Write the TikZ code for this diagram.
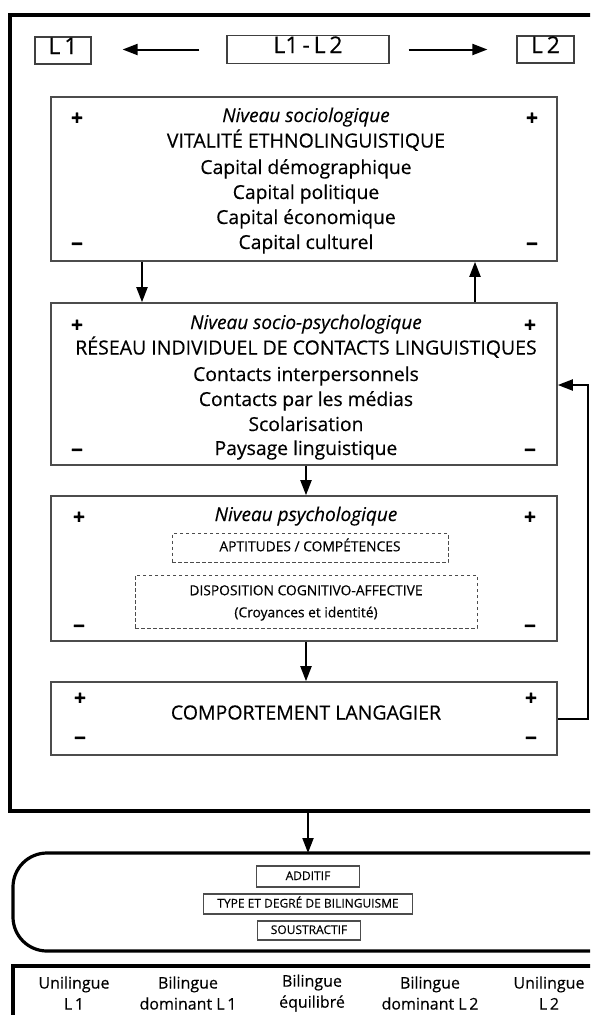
\documentclass[tikz,border=0pt]{standalone}
\usepackage{fontspec}
\setmainfont{Open Sans}[FakeBold=0.35]
\usetikzlibrary{arrows.meta,calc}

\begin{document}
\begin{tikzpicture}[x=1pt,y=-1pt,
  tag/.style={draw=black!75, line width=1.2pt, inner sep=0pt,
    font=\fontsize{23}{23}\selectfont, text height=0.7em, text depth=0pt},
  levelbox/.style={draw=black!70, line width=1.6pt, inner sep=0pt},
  dashbox/.style={draw=black!70, line width=1pt, dash pattern=on 3.5pt off 2.5pt, inner sep=0pt},
  smallbox/.style={draw=black!70, line width=1.1pt, inner sep=0pt,
    font=\fontsize{12}{12}\selectfont, text height=0.7em, text depth=0pt},
  heavy/.style={line width=3.2pt},
  arr/.style={-{Triangle[length=15pt,width=11pt]}, line width=2pt},
  sign/.style={inner sep=0pt, font=\fontsize{21}{21}\selectfont\bfseries},
  big/.style={inner sep=0pt, font=\fontsize{19.5}{19.5}\selectfont, text height=0.7em, text depth=0pt},
  mid/.style={inner sep=0pt, font=\fontsize{19.3}{19.3}\selectfont, text height=0.6em, text depth=0pt},
  lvl/.style={inner sep=0pt, font=\fontsize{19}{19}\selectfont\itshape, text height=0.6em, text depth=0pt},
  small/.style={inner sep=0pt, font=\fontsize{13.8}{14}\selectfont, text height=0.65em, text depth=0pt},
  col/.style={inner sep=0pt, align=center, font=\fontsize{16}{21}\selectfont},
]
\useasboundingbox (0,0) rectangle (590,1015);
\clip (0,0) rectangle (590,1015);

% outer frame
\draw[heavy] (10,15) rectangle (620,811);
\coordinate (frameB) at (308,811);

% language continuum labels
\node[tag, minimum width=56pt, minimum height=27pt] (L1) at (63,50.5) {L\,1};
\node[tag, minimum width=162pt, minimum height=28pt] (L12) at (308,49.5) {L1\,-\,L\,2};
\node[tag, minimum width=57pt, minimum height=27pt] (L2) at (545.5,49.5) {L\,2};
\draw[arr, shorten <=27pt, shorten >=31pt] (L12.west) -- (L1.east |- L12.west);
\draw[arr, shorten <=19pt, shorten >=29pt] (L12.east) -- (L2.west |- L12.east);

% sociological level
\node[levelbox, minimum width=506pt, minimum height=164pt] (b1) at (304,179) {};
\node[lvl] at (306,119) {Niveau sociologique};
\node[big] at (306,144) {VITALITÉ ETHNOLINGUISTIQUE};
\node[mid] at (306,171) {Capital démographique};
\node[mid] at (306,196) {Capital politique};
\node[mid] at (306,221) {Capital économique};
\node[mid] at (306,246) {Capital culturel};
\node[sign] at (77,119) {+};
\node[sign] at (532,119) {+};
\node[sign] at (77,247) {−};
\node[sign] at (532,247) {−};

% socio-psychological level
\node[levelbox, minimum width=506pt, minimum height=162pt] (b2) at (304,384) {};
\node[lvl] at (306,326) {Niveau socio-psychologique};
\node[big] at (306,351) {RÉSEAU INDIVIDUEL DE CONTACTS LINGUISTIQUES};
\node[mid] at (306,378) {Contacts interpersonnels};
\node[mid] at (306,403) {Contacts par les médias};
\node[mid] at (306,428) {Scolarisation};
\node[mid] at (306,452) {Paysage linguistique};
\node[sign] at (77,326) {+};
\node[sign] at (530,326) {+};
\node[sign] at (77,453) {−};
\node[sign] at (530,453) {−};

% psychological level
\node[levelbox, minimum width=506pt, minimum height=145pt] (b3) at (304,568.5) {};
\node[lvl] at (306,518) {Niveau psychologique};
\node[dashbox, small, minimum width=276pt, minimum height=29pt] (apt) at (310,548) {APTITUDES / COMPÉTENCES};
\node[dashbox, minimum width=342pt, minimum height=53pt] (disp) at (306,601.5) {};
\node[small] at (306,592) {DISPOSITION COGNITIVO-AFFECTIVE};
\node[small] at (306,614) {(Croyances et identité)};
\node[sign] at (79,518) {+};
\node[sign] at (530,518) {+};
\node[sign] at (79,629) {−};
\node[sign] at (530,629) {−};

% language behaviour
\node[levelbox, minimum width=506pt, minimum height=73pt] (b4) at (304,718.5) {};
\node[big] at (306,716) {COMPORTEMENT LANGAGIER};
\node[sign] at (80,699) {+};
\node[sign] at (531,699) {+};
\node[sign] at (80,741) {−};
\node[sign] at (531,741) {−};

% links between levels
\draw[arr] (b1.south -| 142,0) -- (b2.north -| 142,0);
\draw[arr] (b2.north -| 475,0) -- (b1.south -| 475,0);
\draw[arr] (b2.south -| 306,0) -- (b3.north -| 306,0);
\draw[arr] (b3.south -| 306,0) -- (b4.north -| 306,0);
\coordinate (fb) at (588,385);
\draw[arr] (b4.east) -| (fb) -- (b2.east |- fb);

% bilingualism outcome
\draw[heavy, rounded corners=34pt] (13,853) rectangle (640,951);
\coordinate (outT) at (308,853);
\draw[arr] (frameB) -- (outT);
\node[smallbox, minimum width=103pt, minimum height=21pt] (add) at (308,876.5) {ADDITIF};
\node[smallbox, minimum width=209pt, minimum height=20pt] (type) at (308,904) {TYPE ET DEGRÉ DE BILINGUISME};
\node[smallbox, minimum width=103pt, minimum height=19pt] (sous) at (309,930.5) {SOUSTRACTIF};

% continuum of bilingual profiles
\draw[heavy] (13,1040) |- (640,966);
\node[col] at (74,993) {Unilingue\\L\,1};
\node[col] at (188,993) {Bilingue\\dominant L\,1};
\node[col] at (312,993) {Bilingue\\équilibré};
\node[col] at (430,993) {Bilingue\\dominant L\,2};
\node[col] at (549,993) {Unilingue\\L\,2};
\end{tikzpicture}
\end{document}
